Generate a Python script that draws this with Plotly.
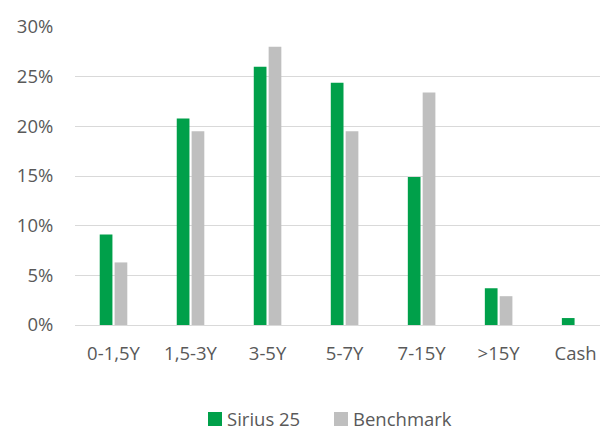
import plotly.graph_objects as go

categories = ["0-1,5Y", "1,5-3Y", "3-5Y", "5-7Y", "7-15Y", ">15Y", "Cash"]
sirius = [0.091, 0.208, 0.260, 0.244, 0.149, 0.037, 0.007]
benchmark = [0.063, 0.195, 0.280, 0.195, 0.234, 0.029, 0.0]
tick_vals = [0, 0.05, 0.10, 0.15, 0.20, 0.25, 0.30]
tick_text = ["0%", "5%", "10%", "15%", "20%", "25%", "30%"]
series_names = ["Sirius 25", "Benchmark"]

GREEN = "#00A04A"
GRAY = "#BFBFBF"
TXT = "#595959"
FONT = "Open Sans"
FS = 18.5

W, H = 600, 424
ML, MR, MT, MB = 67, 0, 19, 107
PW, PH = W - ML - MR, H - MT - MB

fig = go.Figure()
fig.add_trace(go.Bar(x=categories, y=sirius, name=series_names[0],
                     marker=dict(color=GREEN, line=dict(width=0))))
fig.add_trace(go.Bar(x=categories, y=benchmark, name=series_names[1],
                     marker=dict(color=GRAY, line=dict(width=0))))

# manual legend (figure pixel positions converted to paper coords)
def px(fx):
    return (fx - ML) / PW

def py(fy):
    return (H - MB - fy) / PH

legend_items = [(series_names[0], GREEN, 200), (series_names[1], GRAY, 326)]
shapes, annots = [], []
for name, col, left in legend_items:
    shapes.append(dict(type="rect", xref="paper", yref="paper",
                       x0=px(left), x1=px(left + 14), y0=py(418), y1=py(404),
                       fillcolor=col, line=dict(width=0)))
    annots.append(dict(text=name, xref="paper", yref="paper",
                       x=px(left + 17), y=py(410), xanchor="left", yanchor="middle",
                       showarrow=False, font=dict(family=FONT, size=FS, color=TXT)))

fig.update_layout(
    width=W, height=H,
    margin=dict(l=ML, r=MR, t=MT, b=MB),
    paper_bgcolor="white", plot_bgcolor="white",
    barmode="group", bargap=0.614, bargroupgap=0.145,
    font=dict(family=FONT, size=FS, color=TXT),
    showlegend=False,
    shapes=shapes, annotations=annots,
    xaxis=dict(range=[-0.5, 6.42], showgrid=False, showline=False,
               ticks="outside", ticklen=12, tickcolor="rgba(0,0,0,0)",
               tickfont=dict(family=FONT, size=FS, color=TXT), fixedrange=True),
    yaxis=dict(range=[0, 0.30], tickvals=tick_vals, ticktext=tick_text,
               showgrid=True, gridcolor="#D9D9D9", gridwidth=1.3,
               zeroline=True, zerolinecolor="#D9D9D9", zerolinewidth=1.3,
               showline=False, ticks="outside", ticklen=17,
               tickcolor="rgba(0,0,0,0)",
               tickfont=dict(family=FONT, size=FS, color=TXT), fixedrange=True),
)

fig.write_html("out.html")
